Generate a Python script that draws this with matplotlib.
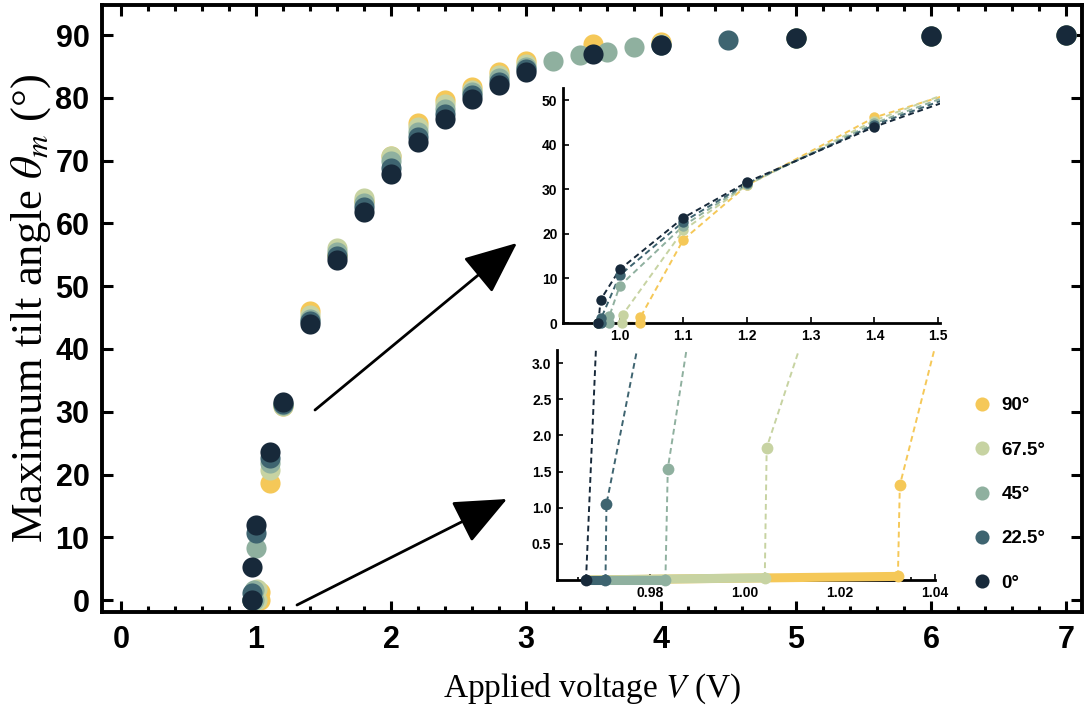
import matplotlib
matplotlib.use('Agg')
import matplotlib.pyplot as plt
from matplotlib.ticker import MultipleLocator, FixedLocator
from matplotlib.font_manager import FontProperties

plt.rcParams['mathtext.fontset'] = 'stix'

# ---------------- data ----------------
labels = ['90°', '67.5°', '45°', '22.5°', '0°']
colors = ['#f5c858', '#c7d3a2', '#8fb09f', '#3e6470', '#17293a']

v_90 = [0.9666, 1.0322, 1.0326, 1.1, 1.2, 1.4, 1.6, 1.8, 2.0, 2.2, 2.4, 2.6, 2.8, 3.0, 3.5, 4.0, 5.0, 6.0, 7.0]
t_90 = [0.0, 0.05, 1.31, 18.7, 30.9, 46.1, 55.0, 63.5, 70.8, 76.0, 79.6, 81.8, 84.2, 85.8, 88.6, 88.9, 89.6, 89.9, 90.0]

v_67 = [0.9666, 1.0042, 1.0046, 1.1, 1.2, 1.4, 1.6, 1.8, 2.0, 2.2, 2.4, 2.6, 2.8, 3.0, 4.0, 5.0, 6.0, 7.0]
t_67 = [0.0, 0.03, 1.83, 20.8, 30.9, 45.4, 56.1, 64.0, 70.8, 75.4, 79.0, 81.3, 83.7, 85.4, 88.6, 89.6, 89.9, 90.0]

v_45 = [0.9666, 0.9833, 0.9838, 1.0, 1.1, 1.2, 1.4, 1.6, 1.8, 2.0, 2.2, 2.4, 2.6, 2.8, 3.0, 3.2, 3.4, 3.6, 3.8, 4.0, 5.0, 6.0, 7.0]
t_45 = [0.0, 0.0, 1.54, 8.3, 21.8, 31.1, 44.8, 55.4, 63.3, 69.9, 74.6, 78.2, 80.9, 83.1, 85.0, 85.9, 86.9, 87.3, 88.1, 88.5, 89.6, 89.9, 90.0]

v_22 = [0.9666, 0.9707, 0.9709, 1.0, 1.1, 1.2, 1.4, 1.6, 1.8, 2.0, 2.2, 2.4, 2.6, 2.8, 3.0, 4.0, 4.5, 5.0, 6.0, 7.0]
t_22 = [0.0, 0.0, 1.05, 10.7, 22.7, 31.3, 44.4, 54.8, 62.6, 68.9, 73.8, 77.4, 80.4, 82.5, 84.6, 88.4, 89.2, 89.6, 89.9, 90.0]

v_0 = [0.9666, 0.97, 1.0, 1.1, 1.2, 1.4, 1.6, 1.8, 2.0, 2.2, 2.4, 2.6, 2.8, 3.0, 3.5, 4.0, 5.0, 6.0, 7.0]
t_0 = [0.0, 5.2, 12.0, 23.6, 31.6, 44.0, 54.1, 61.8, 67.9, 73.0, 76.7, 79.9, 82.0, 84.2, 87.0, 88.4, 89.6, 89.9, 90.0]

series_v = [v_90, v_67, v_45, v_22, v_0]
series_t = [t_90, t_67, t_45, t_22, t_0]
# index of the last zero-angle point of each series (end of the flat band)
zero_end = [1, 1, 1, 1, 0]

main_xticks = [0, 1, 2, 3, 4, 5, 6, 7]
main_yticks = [0, 10, 20, 30, 40, 50, 60, 70, 80, 90]
in1_xticks = [1.0, 1.1, 1.2, 1.3, 1.4, 1.5]
in1_yticks = [0, 10, 20, 30, 40, 50]
in2_xticks = [0.98, 1.00, 1.02, 1.04]
in2_yticks = [0.5, 1.0, 1.5, 2.0, 2.5, 3.0]

# ---------------- figure ----------------
W, H = 1088, 722
fig = plt.figure(figsize=(W / 100, H / 100), dpi=100)

def px_axes(l, t, r, b):
    return fig.add_axes([l / W, 1 - b / H, (r - l) / W, (b - t) / H])

def fp(size):
    return FontProperties(family='Liberation Sans', weight='bold', size=size)

# main axes
ax = px_axes(102, 5, 1082, 612)
for v, t, c, lab in zip(series_v, series_t, colors, labels):
    ax.plot(v, t, linestyle='none', marker='o', markersize=14.5, color=c,
            markeredgewidth=0, label=lab)
ax.set_xlim(-0.141, 7.119)
ax.set_ylim(-1.9, 94.8)
ax.xaxis.set_major_locator(FixedLocator(main_xticks))
ax.xaxis.set_minor_locator(MultipleLocator(0.2))
ax.yaxis.set_major_locator(FixedLocator(main_yticks))
ax.tick_params(which='both', direction='in', top=True, right=True, width=2.2)
ax.tick_params(which='major', length=8, pad=9)
ax.tick_params(which='minor', length=4)
for s in ax.spines.values():
    s.set_linewidth(2.8)
for lbl in ax.get_xticklabels() + ax.get_yticklabels():
    lbl.set_fontproperties(fp(22))
ax.set_xlabel(r'Applied voltage $V$ (V)', family='Liberation Serif', fontsize=24, labelpad=12)
ax.set_ylabel(r'Maximum tilt angle $\theta_m$ (°)', family='Liberation Serif', fontsize=32, labelpad=2)

leg = ax.legend(loc='upper left', bbox_to_anchor=(965 / W, 1 - 388 / H),
                bbox_transform=fig.transFigure, frameon=False, markerscale=0.7,
                handlelength=0.8, handletextpad=0.65, labelspacing=1.45, borderpad=0,
                prop=fp(13.5))

# inset 1 (upper)
a1 = px_axes(563, 88, 940, 323)
for i, (v, t, c) in enumerate(zip(series_v, series_t, colors)):
    a1.plot(v, t, linestyle=(0, (3, 2)), lw=1.4, color=c)
    inside = [(x, y) for x, y in zip(v, t) if x <= 1.5]
    a1.plot([p[0] for p in inside], [p[1] for p in inside], linestyle='none', marker='o',
            markersize=7.5, color=c, markeredgewidth=0, clip_on=False, zorder=3 + i * 0.01)
a1.set_xlim(0.911, 1.503)
a1.set_ylim(0, 52.7)
a1.xaxis.set_major_locator(FixedLocator(in1_xticks))
a1.yaxis.set_major_locator(FixedLocator(in1_yticks))
a1.set_xticklabels(['1.0', '1.1', '1.2', '1.3', '1.4', '1.5'])
a1.spines['top'].set_visible(False)
a1.spines['right'].set_visible(False)
for s in ('left', 'bottom'):
    a1.spines[s].set_linewidth(2)
a1.tick_params(direction='in', length=4, width=1.2, pad=4)
for lbl in a1.get_xticklabels() + a1.get_yticklabels():
    lbl.set_fontproperties(fp(10))
a1.patch.set_alpha(0)

# inset 2 (lower)
a2 = px_axes(557, 350, 935, 580)
for i, (v, t, c, ze) in enumerate(zip(series_v, series_t, colors, zero_end)):
    a2.plot(v[:ze + 1], t[:ze + 1], linestyle='-', lw=6.5, color=c,
            solid_capstyle='round', clip_on=False, zorder=3 + i * 0.01)
    a2.plot(v[ze:], t[ze:], linestyle=(0, (3, 2)), lw=1.4, color=c, zorder=2.5)
    inside = [(x, y) for x, y in zip(v[ze:], t[ze:]) if y <= 3.1 and x <= 1.04]
    a2.plot([p[0] for p in inside], [p[1] for p in inside], linestyle='none', marker='o',
            markersize=8.5, color=c, markeredgewidth=0, clip_on=False, zorder=3.5 + i * 0.01)
a2.set_xlim(0.9605, 1.04)
a2.set_ylim(0, 3.18)
a2.xaxis.set_major_locator(FixedLocator(in2_xticks))
a2.xaxis.set_minor_locator(MultipleLocator(0.005))
a2.yaxis.set_major_locator(FixedLocator(in2_yticks))
a2.yaxis.set_minor_locator(FixedLocator([0]))
a2.set_xticklabels(['0.98', '1.00', '1.02', '1.04'])
a2.set_yticklabels(['0.5', '1.0', '1.5', '2.0', '2.5', '3.0'])
a2.spines['top'].set_visible(False)
a2.spines['right'].set_visible(False)
for s in ('left', 'bottom'):
    a2.spines[s].set_linewidth(2)
a2.tick_params(which='both', direction='in', length=4, width=1.2, pad=4)
a2.tick_params(which='minor', length=2.5)
for lbl in a2.get_xticklabels() + a2.get_yticklabels():
    lbl.set_fontproperties(fp(10))
a2.patch.set_alpha(0)

# arrows
arrow_kw = dict(arrowstyle='-|>,head_length=1.5,head_width=0.65', color='black', lw=2,
                mutation_scale=22, shrinkA=0, shrinkB=0)
fig.add_artist(matplotlib.patches.FancyArrowPatch((315 / W, 1 - 410 / H), (517 / W, 1 - 243 / H),
                                                  transform=fig.transFigure, **arrow_kw))
fig.add_artist(matplotlib.patches.FancyArrowPatch((297 / W, 1 - 605 / H), (507 / W, 1 - 499 / H),
                                                  transform=fig.transFigure, **arrow_kw))

fig.savefig('out.png', dpi=100)
